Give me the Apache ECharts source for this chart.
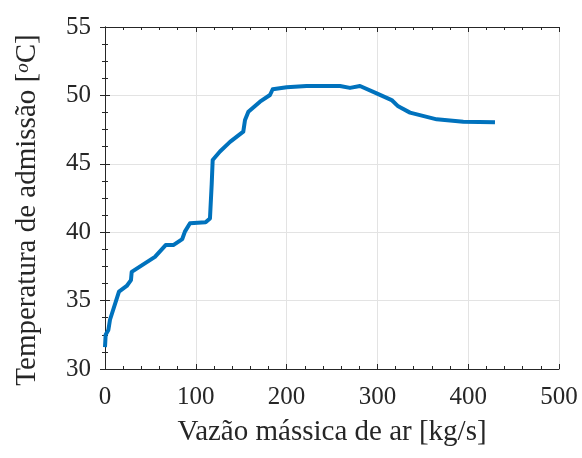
<!DOCTYPE html>
<html>
<head>
<meta charset="utf-8">
<script src="https://cdn.jsdelivr.net/npm/echarts@6/dist/echarts.min.js"></script>
<style>
html,body{margin:0;padding:0;background:#fff;}
#c{width:582px;height:458px;}
</style>
</head>
<body>
<div id="c"></div>
<script>
var massFlow = [0, 0.7, 3.7, 5.5, 15.4, 23.9, 28.6, 29.4, 55, 66.8, 75.2, 85.1, 88, 93.6, 110.8, 115.6, 117.5, 118.6, 126.6, 137.7, 152.3, 154.2, 157.9, 170.7, 181.7, 184.7, 200.1, 222, 258.8, 269.8, 280.8, 299.2, 315.7, 322.9, 335.9, 365.3, 394.6, 429.5];
var temperature = [31.6, 32.5, 32.85, 33.6, 35.65, 36.07, 36.5, 37.1, 38.2, 39.06, 39.06, 39.5, 40.04, 40.65, 40.72, 41.0, 43.5, 45.28, 45.9, 46.6, 47.35, 48.2, 48.8, 49.54, 50.03, 50.45, 50.6, 50.69, 50.69, 50.55, 50.69, 50.15, 49.66, 49.2, 48.74, 48.25, 48.08, 48.03];
var xTicks = [0, 100, 200, 300, 400, 500];
var yTicks = [30, 35, 40, 45, 50, 55];

var pts = massFlow.map(function (x, i) { return [x, temperature[i]]; });
var font = 'Liberation Serif';
var axisColor = '#262626';

var chart = echarts.init(document.getElementById('c'), null, {renderer: 'canvas'});
chart.setOption({
  animation: false,
  backgroundColor: '#fff',
  grid: {left: 105, right: 23, top: 27, bottom: 89, show: false},
  xAxis: [{
    type: 'value', min: xTicks[0], max: xTicks[xTicks.length - 1], interval: 100,
    name: 'Vazão mássica de ar [kg/s]', nameLocation: 'middle', nameGap: 49,
    nameTextStyle: {fontFamily: font, fontSize: 29, color: axisColor},
    axisLine: {show: true, lineStyle: {color: axisColor, width: 1}},
    axisTick: {show: true, inside: true, length: 5, lineStyle: {color: axisColor}},
    minorTick: {show: true, splitNumber: 5, length: 3, lineStyle: {color: axisColor}},
    axisLabel: {fontFamily: font, fontSize: 25, color: axisColor, margin: 16},
    splitLine: {show: true, lineStyle: {color: '#e3e3e3', width: 1}}
  }, {
    type: 'value', position: 'top', min: xTicks[0], max: xTicks[xTicks.length - 1], interval: 100,
    axisLine: {show: true, lineStyle: {color: axisColor, width: 1}},
    axisTick: {show: true, inside: true, length: 5, lineStyle: {color: axisColor}},
    minorTick: {show: true, splitNumber: 5, length: 3, lineStyle: {color: axisColor}},
    axisLabel: {show: false}, splitLine: {show: false}
  }],
  yAxis: [{
    type: 'value', min: yTicks[0], max: yTicks[yTicks.length - 1], interval: 5,
    name: 'Temperatura de admissão [{s|o}C]', nameLocation: 'middle', nameGap: 63,
    nameTextStyle: {fontFamily: font, fontSize: 29, color: axisColor, padding: [0, 24, 0, 0],
      rich: {s: {fontFamily: font, fontSize: 19, fontStyle: 'italic', color: axisColor, verticalAlign: 'top', padding: [0, 0, 9, 0]}}},
    axisLine: {show: true, lineStyle: {color: axisColor, width: 1}},
    axisTick: {show: true, inside: true, length: 5, lineStyle: {color: axisColor}},
    minorTick: {show: true, splitNumber: 4, length: 3, lineStyle: {color: axisColor}},
    axisLabel: {fontFamily: font, fontSize: 25, color: axisColor, margin: 14},
    splitLine: {show: true, lineStyle: {color: '#e3e3e3', width: 1}}
  }, {
    type: 'value', position: 'right', min: yTicks[0], max: yTicks[yTicks.length - 1], interval: 5,
    axisLine: {show: true, lineStyle: {color: axisColor, width: 1}},
    axisTick: {show: true, inside: true, length: 5, lineStyle: {color: axisColor}},
    minorTick: {show: true, splitNumber: 4, length: 3, lineStyle: {color: axisColor}},
    axisLabel: {show: false}, splitLine: {show: false}
  }],
  series: [{
    type: 'line', data: pts, showSymbol: false, symbol: 'none',
    lineStyle: {color: '#0072BD', width: 4, join: 'round'},
    clip: false
  }]
});
</script>
</body>
</html>
